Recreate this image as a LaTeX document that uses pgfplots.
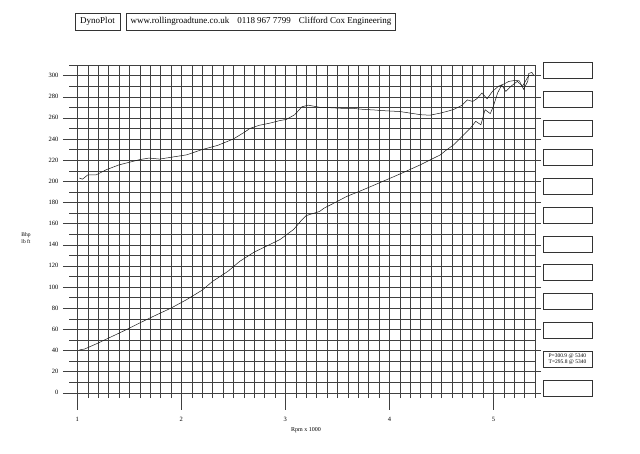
\documentclass[border=0pt]{standalone}
\usepackage{pgfplots}
\pgfplotsset{compat=1.18}
\usepackage{fontspec}
\setmainfont{Liberation Serif}
\begin{document}
\begin{tikzpicture}
\path[use as bounding box] (0,0) rectangle (640pt,-453pt);
% header
\draw[line width=0.5pt, black!80] (75pt,-13pt) rectangle (120pt,-30pt);
\node[font=\fontsize{9}{11}\selectfont, inner sep=0pt] at (97.5pt,-21.5pt) {DynoPlot};
\draw[line width=0.5pt, black!80] (126pt,-13pt) rectangle (395pt,-30pt);
\node[font=\fontsize{9}{11}\selectfont, inner sep=0pt] at (261pt,-21.5pt) {www.rollingroadtune.co.uk\hspace{8pt}0118 967 7799\hspace{8pt}Clifford Cox Engineering};
% right boxes
\foreach \t in {62,91,120,149,178,207,236,264.5,293,322,351,380} {
  \draw[line width=0.5pt, black!80] (543pt,{-\t*1pt}) rectangle (592pt,{-(\t+16)*1pt});
}
\node[font=\fontsize{5.5}{6.5}\selectfont, inner sep=0pt, align=left] at (567.5pt,-359pt) {P=300.9 @ 5340\\T=295.8 @ 5340};
% axis labels
\node[font=\fontsize{5.5}{6.5}\selectfont, inner sep=0pt, align=center] at (26pt,-238pt) {Bhp\\lb ft};
\node[font=\fontsize{6}{7}\selectfont, inner sep=0pt] at (306pt,-430pt) {Rpm x 1000};
\begin{axis}[
  scale only axis, width=466pt, height=333pt,
  anchor=south west, at={(69pt,-398pt)},
  xmin=0.92, xmax=5.4, ymin=-5, ymax=310,
  clip=false,
  axis line style={draw=none},
  xtick={1,2,3,4,5},
  minor xtick={1.1,1.2,1.3,1.4,1.5,1.6,1.7,1.8,1.9,2.1,2.2,2.3,2.4,2.5,2.6,2.7,2.8,2.9,3.1,3.2,3.3,3.4,3.5,3.6,3.7,3.8,3.9,4.1,4.2,4.3,4.4,4.5,4.6,4.7,4.8,4.9,5.1,5.2,5.3,5.4},
  ytick={0,20,...,300},
  minor ytick={10,30,...,310},
  grid=both,
  major grid style={black!75, line width=0.4pt},
  minor grid style={black!75, line width=0.4pt},
  tick align=outside,
  major tick length=6pt,
  minor tick length=0pt,
  xtick style={draw=none},
  ytick style={black!75, line width=0.4pt},
  tick label style={font=\fontsize{6.5}{8}\selectfont},
  /pgf/number format/assume math mode=true,
  xticklabel style={yshift=-10pt},
  yticklabel style={xshift=-1pt},
]
\pgfplotsinvokeforeach{1,2,3,4,5}{
  \draw[black!75, line width=0.4pt] (axis cs:#1,-5) -- (axis cs:#1,-16);
}
% torque
\addplot[black!90, line width=0.5pt] coordinates {
(1.02,203) (1.05,202) (1.10,206) (1.18,206) (1.28,211) (1.40,215.5) (1.50,218)
(1.60,220.5) (1.69,222) (1.79,221) (1.92,223) (2.05,225) (2.20,230) (2.35,234)
(2.50,240) (2.60,246) (2.66,250) (2.75,253) (2.85,255) (2.95,257.5) (3.01,258.5)
(3.09,263) (3.16,270.5) (3.22,272) (3.33,270) (3.45,269.5) (3.55,269) (3.65,269)
(3.75,268) (3.85,267.5) (3.91,267) (4.00,266.5) (4.10,266) (4.20,264.5) (4.30,263)
(4.39,262.5) (4.49,264.5) (4.55,266) (4.62,268) (4.70,272) (4.75,277) (4.80,275.5)
(4.84,278) (4.89,283.5) (4.94,278) (4.99,285) (5.05,290) (5.09,291.5) (5.15,294.5)
(5.21,295.5) (5.25,295) (5.29,287) (5.33,294.5) (5.34,302) (5.37,303) (5.39,300)
};
% power
\addplot[black!90, line width=0.5pt] coordinates {
(1.02,40.5) (1.07,41.3) (1.20,47) (1.35,54) (1.47,59.6) (1.60,66) (1.73,72.2)
(1.90,80) (2.05,88) (2.20,97) (2.30,105.3) (2.45,115) (2.56,124.2) (2.70,133)
(2.88,141.6) (2.95,145) (3.08,154.5) (3.16,163.7) (3.20,167.5) (3.33,171.5)
(3.37,174.5) (3.50,181) (3.59,185.7) (3.70,190) (3.82,195) (4.01,203) (4.15,209)
(4.30,215.7) (4.49,225) (4.54,229) (4.62,234.6) (4.70,242.5) (4.78,250.4)
(4.83,256.7) (4.88,253.5) (4.92,267.7) (4.97,264) (5.00,271) (5.04,283.5)
(5.08,291) (5.12,285) (5.17,290) (5.23,294.5) (5.28,290) (5.34,300) (5.38,300.5)
};
\end{axis}
\end{tikzpicture}
\end{document}
